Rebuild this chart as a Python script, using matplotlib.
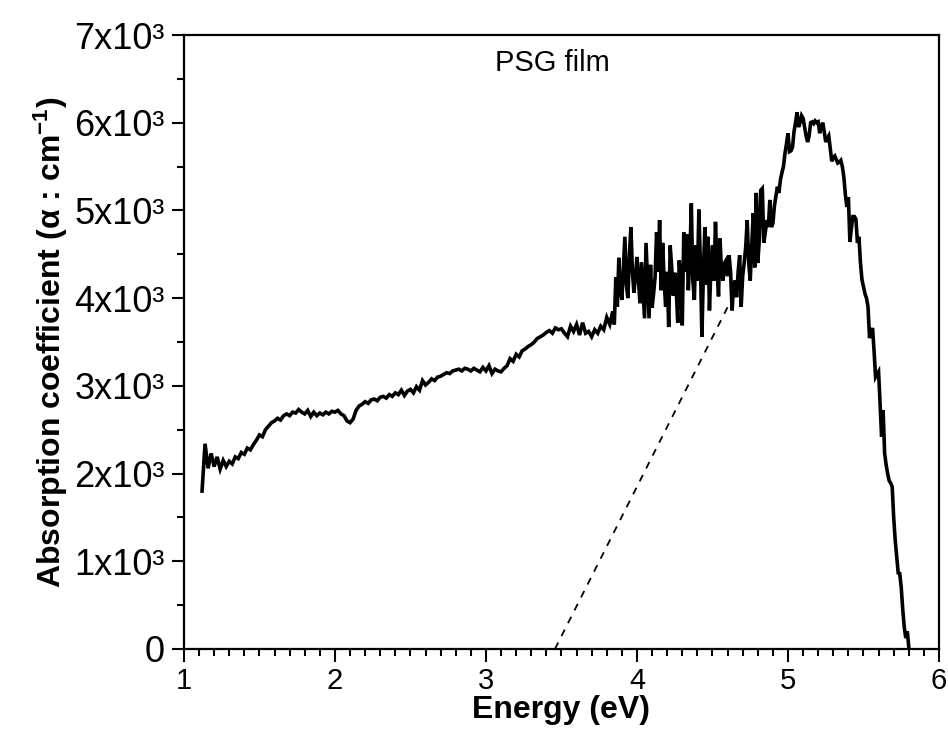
import numpy as np
import matplotlib
matplotlib.use("Agg")
import matplotlib.pyplot as plt
from matplotlib.ticker import MultipleLocator, FixedLocator

plt.rcParams['font.family'] = ['Liberation Sans', 'DejaVu Sans']
plt.rcParams['mathtext.default'] = 'regular'

# Absorption spectrum of the PSG film (energy in eV, alpha in cm^-1)
# low-energy part, 0.02 eV sampling starting at 1.12 eV
alpha_low = [
    1800, 2340, 2060, 2230, 2080, 2190, 2050, 2150, 2080, 2140,
    2110, 2190, 2170, 2240, 2220, 2290, 2270, 2330, 2380, 2440,
    2420, 2500, 2540, 2580, 2600, 2630, 2610, 2660, 2680, 2660,
    2700, 2690, 2730, 2700, 2680, 2720, 2650, 2700, 2660, 2690,
    2670, 2700, 2680, 2710, 2700, 2720, 2680, 2660, 2600, 2580,
    2620, 2720, 2770, 2790, 2820, 2800, 2840, 2850, 2830, 2870,
    2880, 2860, 2900, 2880, 2920, 2900, 2950, 2890, 2940, 2960,
    2920, 2990, 2950, 3060, 3010, 3040, 3080, 3060, 3100, 3110,
    3130, 3150, 3140, 3170, 3180, 3190, 3170, 3200, 3190, 3170,
    3200, 3180, 3160, 3210, 3170, 3230, 3140, 3190, 3170, 3160,
    3200, 3230, 3310, 3280, 3360, 3330, 3400, 3420, 3450, 3470,
    3500, 3540, 3560, 3580, 3610, 3630, 3600, 3660, 3640, 3650,
    3600, 3560, 3680, 3620, 3700, 3580, 3720, 3600, 3620, 3560,
    3640, 3600, 3680, 3640, 3780, 3700, 3850,
]
e_low_start, e_low_step = 1.12, 0.02

# noisy middle part, 0.01 eV sampling starting at 3.85 eV
alpha_mid = [
    3700, 4240, 3900, 4460, 4100, 3980, 4350, 4700, 4150, 4000,
    4500, 4810, 4300, 4060, 4250, 4470, 4200, 3940, 4410, 4100,
    3770, 4630, 4200, 3770, 4380, 3890, 4050, 4240, 4750, 4300,
    4890, 4090, 4630, 4200, 3900, 4300, 3670, 4600, 4350, 4030,
    4290, 4100, 3720, 4430, 4200, 3690, 4750, 4300, 4730, 4090,
    4450, 5080, 4200, 3980, 4600, 4200, 5010, 4400, 3560, 4300,
    4810, 4150, 4700, 3860, 4350, 4600, 4200, 4870, 4350, 4020,
    4680, 4300, 4200, 4400, 4430, 4250, 4490, 4300, 3860, 4150,
    4200, 4010, 4300, 4490, 3900, 4250, 4400, 4580, 4890, 4400,
    4200, 4600, 4970, 4350, 5200, 4400, 4660, 5230, 5250, 4630,
    4750, 4890, 4810, 5120, 4810, 4850, 5050, 5160, 5270, 5200,
    5350,
]
e_mid_start, e_mid_step = 3.85, 0.01

# band-edge peak and fall-off, 0.01 eV sampling starting at 4.96 eV
alpha_high = [
    5430, 5500, 5650, 5760, 5880, 5670, 5680, 5720, 5900, 6000,
    6120, 5950, 6000, 6080, 6050, 5950, 5850, 5780, 5850, 6000,
    6010, 5990, 6020, 6000, 6010, 5880, 5950, 6000, 5900, 5780,
    5820, 5850, 5700, 5560, 5600, 5620, 5580, 5540, 5550, 5570,
    5500, 5380, 5180, 5040, 5150, 4640, 4800, 4930, 4930, 4900,
    4630, 4700, 4400, 4210, 4130, 4050, 4000, 3900, 3545, 3600,
    3660, 3400, 3100, 3130, 3160, 2800, 2420, 2720, 2230, 2100,
    2000, 1920, 1890, 1850, 1500, 1240, 1050, 866, 860, 700,
    450, 250, 125, 200, 20,
]
e_high_start, e_high_step = 4.96, 0.01

# linear extrapolation of the absorption edge
tangent_energy = [3.457, 4.61]
tangent_alpha = [0, 3930]

ytick_values = [0, 1000, 2000, 3000, 4000, 5000, 6000, 7000]
ytick_labels = ['0'] + ['%dx10\u00b3' % (v // 1000) for v in ytick_values[1:]]
xtick_values = [1, 2, 3, 4, 5, 6]


def grid(start, step, values):
    return start + step * np.arange(len(values))


energy = np.concatenate([
    grid(e_low_start, e_low_step, alpha_low),
    grid(e_mid_start, e_mid_step, alpha_mid),
    grid(e_high_start, e_high_step, alpha_high),
])
alpha = np.concatenate([alpha_low, alpha_mid, alpha_high]).astype(float)

fig = plt.figure(figsize=(9.48, 7.40), dpi=100)
ax = fig.add_axes([0.194, 0.123, 0.7965, 0.8297])

ax.plot(energy, alpha, color='black', lw=2.6, solid_joinstyle='miter')
ax.plot(tangent_energy, tangent_alpha, color='black', lw=1.3,
        linestyle=(0, (4, 4)))

ax.set_xlim(1, 6)
ax.set_ylim(0, 7000)
ax.xaxis.set_major_locator(FixedLocator(xtick_values))
ax.xaxis.set_minor_locator(MultipleLocator(0.1))
ax.yaxis.set_major_locator(FixedLocator(ytick_values))
ax.yaxis.set_minor_locator(MultipleLocator(500))
ax.set_yticklabels(ytick_labels)

ax.tick_params(axis='both', which='major', direction='out', length=9,
               width=1.5, labelsize=21, pad=4)
ax.tick_params(axis='y', which='major', labelsize=26, pad=5)
ax.tick_params(axis='both', which='minor', direction='out', length=5,
               width=1.5)
ax.tick_params(top=False, right=False, which='both')
for sp in ax.spines.values():
    sp.set_linewidth(1.6)

ax.set_xlabel('Energy (eV)', fontsize=23, fontweight='bold', labelpad=0)
ax.set_ylabel(r'Absorption coefficient (α : cm$^{-1}$)', fontsize=23,
              fontweight='bold', labelpad=3)

ax.text(3.44, 6680, 'PSG film', fontsize=21, ha='center', va='center')

fig.savefig('out.png', dpi=100)
